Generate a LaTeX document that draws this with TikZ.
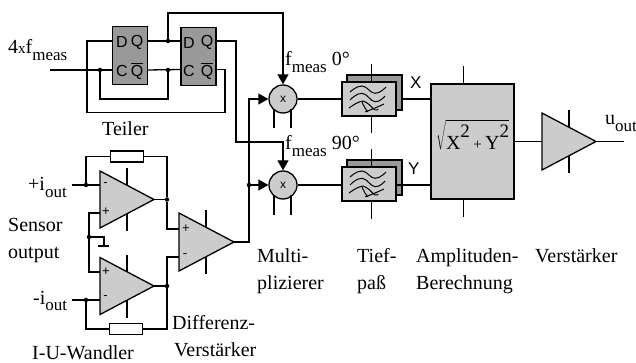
\documentclass[tikz,border=0pt]{standalone}
\usepackage{fontspec}
\setmainfont{Liberation Serif}
\newfontfamily\lblsans{Liberation Sans}
\usetikzlibrary{arrows.meta}
\definecolor{ffgrey}{gray}{0.6}
\definecolor{blockgrey}{gray}{0.8}
\newcommand{\lowsub}[1]{\raisebox{-0.32em}{\fontsize{17}{17}\selectfont #1}}
\newcommand{\qbar}{$\overline{\mbox{Q}}$}
\newcommand{\uptwo}{\raisebox{12pt}{\fontsize{19}{19}\selectfont 2}}
\tikzset{
  wire/.style={line width=1.3pt,line join=miter},
  lbl/.style={font=\fontsize{20}{27}\selectfont,inner sep=0pt,anchor=base west,align=left},
  pinlbl/.style={font=\lblsans\fontsize{16}{16}\selectfont,inner sep=0pt},
  inlbl/.style={font=\lblsans\fontsize{13}{13}\selectfont,inner sep=0pt},
  flipflop/.style={draw,wire,fill=ffgrey,inner sep=0pt,minimum width=35pt,minimum height=58pt},
  mixer/.style={draw,wire,fill=blockgrey,circle,minimum size=28pt,inner sep=0pt,font=\lblsans\fontsize{12}{12}\selectfont},
  filterbox/.style={draw,wire,fill=blockgrey,inner sep=0pt,minimum width=54pt,minimum height=34pt},
  filterback/.style={draw,wire,fill=ffgrey,inner sep=0pt,minimum width=55pt,minimum height=35pt},
  resistor/.style={draw,wire,fill=white,inner sep=0pt,minimum width=33pt,minimum height=11pt},
  calcbox/.style={draw,wire,fill=blockgrey,inner sep=0pt,minimum width=83pt,minimum height=115pt},
  amp/.style={draw,wire,fill=blockgrey},
  dot/.style={circle,fill=black,inner sep=0pt,minimum size=4.5pt},
  arrowwire/.style={wire,-{Triangle[length=10pt,width=11pt]}},
}
\newcommand{\ampshape}[5]{%
  \coordinate (#1-t) at (#2,#3-#4);
  \coordinate (#1-b) at (#2,#3+#4);
  \coordinate (#1-o) at (#2+#5,#3);
  \draw[wire] (#2+27,#3-#4-3) -- (#2+27,#3+#4+3);
  \draw[amp] (#1-t) -- (#1-o) -- (#1-b) -- cycle;
}
\newcommand{\waves}[2]{%
  \begin{scope}[shift={(#1,#2)},line width=1pt]
    \draw plot[smooth,tension=0.8] coordinates {(-19,-7) (-7,-13) (6,-5.7) (17,-12)};
    \draw plot[smooth,tension=0.8] coordinates {(-19,1) (-7,-5.7) (6,2.7) (16,-3)};
    \draw plot[smooth,tension=0.8] coordinates {(-20,9) (-9,2.7) (-2,4) (6,11) (9,10)};
    \draw plot[smooth,tension=0.8] coordinates {(-7,3) (-4,9) (-1,13)};
    \draw plot[smooth,tension=0.8] coordinates {(-4,13) (6,9) (15,5)};
  \end{scope}
}
\begin{document}
\begin{tikzpicture}[x=1pt,y=-1pt]
\useasboundingbox (0,0) rectangle (636,363);
\node[flipflop] (ffa) at (130.3,55.5) {};
\node[flipflop] (ffb) at (198.5,56.5) {};
\node[pinlbl] (ffa-d) at (122,42) {D};
\node[pinlbl] (ffa-q) at (137,42) {Q};
\node[pinlbl] (ffa-c) at (122,71) {C};
\node[pinlbl] (ffa-qb) at (137,71) {\qbar};
\node[pinlbl] (ffb-d) at (189,42.5) {D};
\node[pinlbl] (ffb-q) at (207,42.5) {Q};
\node[pinlbl] (ffb-c) at (189,71) {C};
\node[pinlbl] (ffb-qb) at (207,71) {\qbar};
\coordinate (fa-dp) at (113,41);
\coordinate (fa-qp) at (147.5,41);
\coordinate (fa-cp) at (113,70);
\coordinate (fa-bp) at (147.5,70);
\coordinate (fb-dp) at (181,41);
\coordinate (fb-qp) at (216,41);
\coordinate (fb-cp) at (181,69.5);
\coordinate (fb-bp) at (216,69.5);
\coordinate (clkin) at (50,70);
\node[mixer] (mxa) at (283,99) {x};
\node[mixer] (mxb) at (283,185) {x};
\node[dot] (j1) at (100,70) {};
\node[dot] (j2) at (168,41) {};
\node[dot] (j3) at (168,70) {};
\draw[wire] (clkin) -- (fa-cp);
\draw[wire] (fa-qp) -- (fb-dp);
\draw[wire] (fa-bp) -- (fb-cp);
\draw[wire] (j1) -- (100,99) -- (168,99) -- (j3);
\draw[wire] (fb-bp) -- (225,69.5) -- (225,112.5) -- (87,112.5) -- (87,41) -- (fa-dp);
\draw[arrowwire] (j2) -- (168,13) -- (283,13) -- (mxa.north);
\draw[arrowwire] (fb-qp) -- (236,41) -- (236,142) -- (283,142) -- (mxb.north);
\foreach \m in {mxa,mxb}{
  \draw[wire] ([xshift=-9pt]\m.center) ++(0,10) -- ++(0,19.5);
  \draw[wire] ([xshift=8pt]\m.center) ++(0,10) -- ++(0,19.5);
}
\node[filterback] (fxb) at (374.5,92.5) {};
\node[filterbox] (fxf) at (369,99) {};
\node[filterback] (fyb) at (374.5,177.5) {};
\node[filterbox] (fyf) at (369,184) {};
\draw[wire] (371.5,64) -- (371.5,82);
\draw[wire] (371.5,116) -- (371.5,133);
\draw[wire] (371.5,149) -- (371.5,167);
\draw[wire] (371.5,201) -- (371.5,219);
\waves{369}{99}
\waves{369}{184}
\draw[wire] (463.5,66) -- (463.5,217);
\node[calcbox] (calc) at (472.5,141.5) {};
\draw[wire] (mxa.east) -- (fxf.west);
\draw[wire] (mxb.east) -- (fyf.west |- mxb.east);
\draw[wire] (fxb.east |- 0,99) -- (431,99);
\draw[wire] (fyf.east |- 0,185) -- (431,185);
\node[inner sep=0pt,font=\fontsize{20}{20}\selectfont] (sq) at (472.5,135)
  {$\sqrt{\rule{0pt}{27pt}\mbox{X\uptwo\,{\fontsize{15}{15}\selectfont +}\,Y\uptwo}}$};
\ampshape{oa}{542}{141.5}{28.5}{54}
\coordinate (uout) at (624,141.5);
\draw[wire] (calc.east) -- (oa-t |- calc.east);
\draw[wire] (oa-o) -- (uout);
\ampshape{ua}{100}{199.5}{28.5}{54}
\ampshape{ub}{100}{286}{28.5}{54}
\ampshape{da}{179}{242}{29}{55}
\node[inlbl] (ua-m) at (105.5,185) {-};
\node[inlbl] (ua-p) at (106,212) {+};
\node[inlbl] (ub-p) at (106,272) {+};
\node[inlbl] (ub-m) at (105.5,298) {-};
\node[inlbl] (da-p) at (186,229) {+};
\node[inlbl] (da-m) at (185,256) {-};
\node[resistor] (ra) at (127,156.5) {};
\node[resistor] (rb) at (126,329) {};
\node[dot] (j4) at (86,185) {};
\node[dot] (j5) at (167,199.5) {};
\node[dot] (j6) at (89,237) {};
\node[dot] (j7) at (86,300) {};
\node[dot] (j8) at (167,286) {};
\node[dot] (j9) at (249,185) {};
\coordinate (ipa) at (72,185);
\coordinate (ipb) at (72,300);
\coordinate (ua-mi) at (100,185);
\coordinate (ua-pi) at (100,213);
\coordinate (ub-pi) at (100,272);
\coordinate (ub-mi) at (100,300);
\coordinate (da-pi) at (179,229);
\coordinate (da-mi) at (179,257);
\draw[wire] (ipa) -- (ua-mi);
\draw[wire] (ipb) -- (ub-mi);
\draw[wire] (j4) |- (ra.west);
\draw[wire] (ra.east) -| (j5);
\draw[wire] (j7) |- (rb.west);
\draw[wire] (rb.east) -| (j8);
\draw[wire] (ua-o) -- (j5);
\draw[wire] (ub-o) -- (j8);
\draw[wire] (j5) |- (da-pi);
\draw[wire] (j8) |- (da-mi);
\draw[wire] (ua-pi) -- (89,213) -- (89,272) -- (ub-pi);
\draw[wire] (j6) -- (104,237) -- (104,246);
\draw[wire] (98,246) -- (109,246);
\draw[wire] (da-o) -- (249,242) -- (249,99) -- (255,99);
\draw[arrowwire] (249,99) -- (mxa.west);
\draw[arrowwire] (j9) -- (mxb.west);
\node[lbl] (t1) at (8,54) {4{\fontsize{15}{15}\selectfont x}f\lowsub{meas}};
\node[lbl] (t2) at (102,136) {Teiler};
\node[lbl] (t3) at (285,66) {f\lowsub{meas} 0°};
\node[lbl] (t4) at (285,150) {f\lowsub{meas} 90°};
\node[lbl,font=\lblsans\fontsize{17}{17}\selectfont] (t5) at (410,89) {X};
\node[lbl,font=\lblsans\fontsize{17}{17}\selectfont] (t6) at (408,175) {Y};
\node[lbl] (t7) at (605,125) {u\lowsub{out}};
\node[lbl] (t8) at (28,191) {+i\lowsub{out}};
\node[lbl] (t9) at (33,304) {-i\lowsub{out}};
\node[lbl] (t10) at (8,258) {Sensor\\output};
\node[lbl] (t11) at (257,289) {Multi-\\plizierer};
\node[lbl] (t12) at (357,289) {Tief-\\paß};
\node[lbl] (t13) at (416,289) {Amplituden-\\Berechnung};
\node[lbl] (t14) at (535,262) {Verstärker};
\node[lbl] (t15) at (172,329) {Differenz-};
\node[lbl] (t16) at (174,356) {Verstärker};
\node[lbl] (t17) at (32,359) {I-U-Wandler};
\end{tikzpicture}
\end{document}
